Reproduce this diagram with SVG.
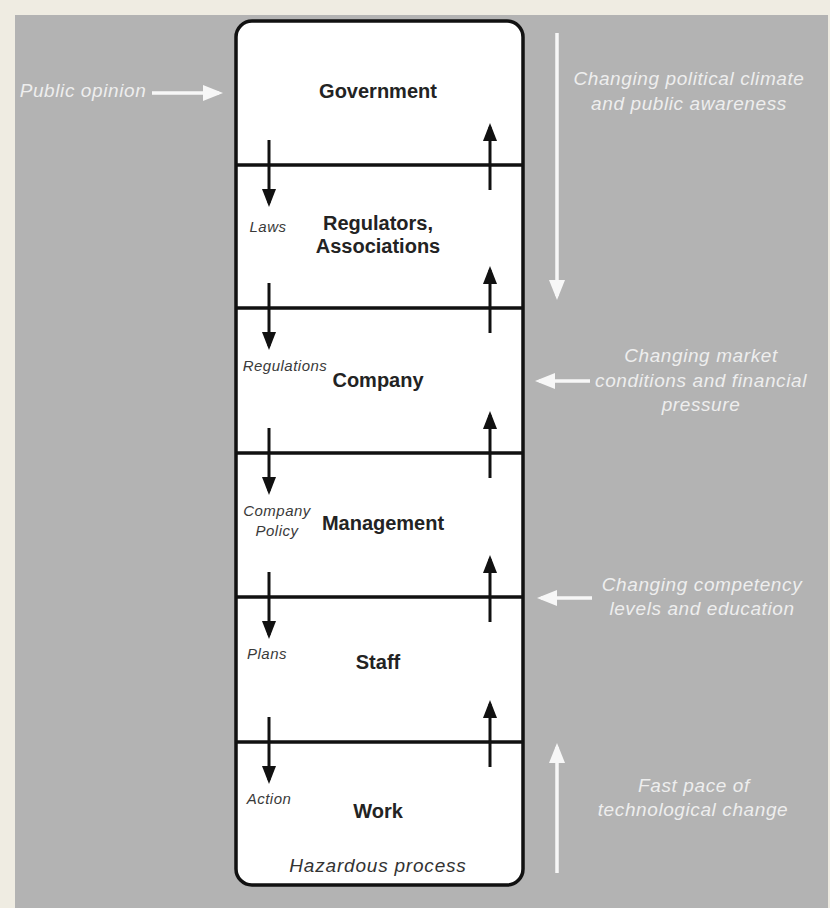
<svg xmlns="http://www.w3.org/2000/svg" width="830" height="908" viewBox="0 0 830 908">
<style>
.bold{font-family:"Liberation Sans",Arial,sans-serif;font-weight:bold;font-size:20px;fill:#232323;text-anchor:middle}
.sm{font-family:"Liberation Sans",Arial,sans-serif;font-style:italic;font-size:15px;letter-spacing:0.5px;fill:#3a3a3a;text-anchor:middle}
.haz{font-family:"Liberation Sans",Arial,sans-serif;font-style:italic;font-size:19px;letter-spacing:0.8px;fill:#333;text-anchor:middle}
.wt{font-family:"Liberation Sans",Arial,sans-serif;font-style:italic;font-size:19px;letter-spacing:0.6px;fill:#eeeeee;text-anchor:middle}
.blk{stroke:#111;stroke-width:3;fill:none}
.wl{stroke:#f7f7f7;stroke-width:3.5;fill:none}
.sep{stroke:#111;stroke-width:3.5}
</style>
<defs>
<marker id="ab" markerUnits="userSpaceOnUse" viewBox="0 0 18 14" refX="14" refY="7" markerWidth="18" markerHeight="14" orient="auto">
<path d="M0,0 L18,7 L0,14 z" fill="#111"/>
</marker>
<marker id="aw" markerUnits="userSpaceOnUse" viewBox="0 0 20 16" refX="16" refY="8" markerWidth="20" markerHeight="16" orient="auto">
<path d="M0,0 L20,8 L0,16 z" fill="#f7f7f7"/>
</marker>
</defs>
<rect x="0" y="0" width="830" height="908" fill="#efece2"/>
<rect x="15" y="15" width="813" height="893" fill="#b3b3b3"/>

<g id="hierarchy">
<rect x="236" y="21" width="287" height="864" rx="16" fill="#ffffff" stroke="#111" stroke-width="3.5"/>
<line class="sep" x1="236" y1="165" x2="523" y2="165"/>
<line class="sep" x1="236" y1="308" x2="523" y2="308"/>
<line class="sep" x1="236" y1="453" x2="523" y2="453"/>
<line class="sep" x1="236" y1="597" x2="523" y2="597"/>
<line class="sep" x1="236" y1="742" x2="523" y2="742"/>
</g>

<g id="government"><text class="bold" x="378" y="98">Government</text></g>
<g id="regulators"><text class="bold" x="378" y="230">Regulators,</text><text class="bold" x="378" y="253">Associations</text></g>
<g id="company"><text class="bold" x="378" y="387">Company</text></g>
<g id="management"><text class="bold" x="383" y="530">Management</text></g>
<g id="staff"><text class="bold" x="378" y="669">Staff</text></g>
<g id="work"><text class="bold" x="378" y="818">Work</text><text class="haz" x="378" y="872">Hazardous process</text></g>

<g id="labels">
<text class="sm" x="268" y="232">Laws</text>
<text class="sm" x="285" y="371">Regulations</text>
<text class="sm" x="277" y="516">Company</text>
<text class="sm" x="277" y="536">Policy</text>
<text class="sm" x="267" y="659">Plans</text>
<text class="sm" x="269" y="804">Action</text>
</g>

<g id="connectors">
<line class="blk" x1="269" y1="140" x2="269" y2="203" marker-end="url(#ab)"/>
<line class="blk" x1="269" y1="283" x2="269" y2="346" marker-end="url(#ab)"/>
<line class="blk" x1="269" y1="428" x2="269" y2="491" marker-end="url(#ab)"/>
<line class="blk" x1="269" y1="572" x2="269" y2="635" marker-end="url(#ab)"/>
<line class="blk" x1="269" y1="717" x2="269" y2="780" marker-end="url(#ab)"/>
<line class="blk" x1="490" y1="190" x2="490" y2="127" marker-end="url(#ab)"/>
<line class="blk" x1="490" y1="333" x2="490" y2="270" marker-end="url(#ab)"/>
<line class="blk" x1="490" y1="478" x2="490" y2="415" marker-end="url(#ab)"/>
<line class="blk" x1="490" y1="622" x2="490" y2="559" marker-end="url(#ab)"/>
<line class="blk" x1="490" y1="767" x2="490" y2="704" marker-end="url(#ab)"/>

<line class="wl" x1="152" y1="93" x2="219" y2="93" marker-end="url(#aw)"/>
<line class="wl" x1="557" y1="33" x2="557" y2="296" marker-end="url(#aw)"/>
<line class="wl" x1="590" y1="381" x2="539" y2="381" marker-end="url(#aw)"/>
<line class="wl" x1="592" y1="598" x2="541" y2="598" marker-end="url(#aw)"/>
<line class="wl" x1="557" y1="873" x2="557" y2="747" marker-end="url(#aw)"/>
</g>

<g id="influences">
<text class="wt" x="83" y="97">Public opinion</text>
<text class="wt" x="689" y="85">Changing political climate</text>
<text class="wt" x="689" y="110">and public awareness</text>
<text class="wt" x="701" y="362">Changing market</text>
<text class="wt" x="701" y="387">conditions and financial</text>
<text class="wt" x="701" y="411">pressure</text>
<text class="wt" x="702" y="591">Changing competency</text>
<text class="wt" x="702" y="615">levels and education</text>
<text class="wt" x="694" y="792">Fast pace of</text>
<text class="wt" x="693" y="816">technological change</text>
</g>
</svg>
